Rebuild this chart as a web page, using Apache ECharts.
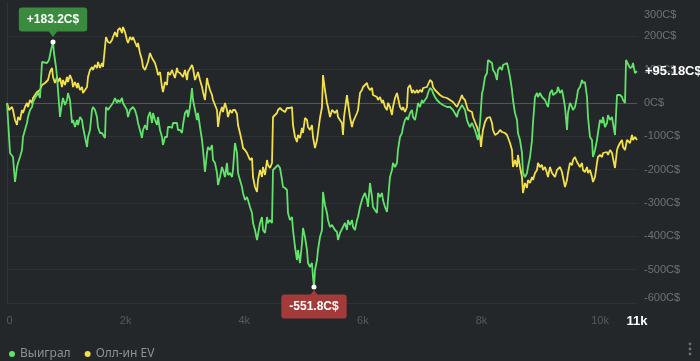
<!DOCTYPE html>
<html><head><meta charset="utf-8">
<script src="https://cdn.jsdelivr.net/npm/echarts@6/dist/echarts.min.js"></script>
<style>html,body{margin:0;padding:0;background:#232729;}#c{width:700px;height:361px;}</style>
</head><body><div id="c"></div>
<script>
var seriesNames = ['Выиграл', 'Олл-ин EV'];
var yTicks = [-600, 300, 100];
var xTickStep = 2000;
var totalHands = 10622;
// [hand, C$]
var wonPoints = [[0,0],[51,-150],[101,-162],[135,-237],[169,-192],[185,-180],[219,-162],[253,-141],[270,-102],[303,-81],[337,-60],[354,-42],[388,-21],[422,-12],[438,3],[472,15],[506,24],[523,33],[556,15],[590,123],[607,123],[674,120],[708,129],[742,159],[776,183.2],[792,150],[826,108],[843,78],[860,39],[894,-42],[927,0],[944,15],[978,-6],[1012,9],[1028,30],[1062,9],[1096,-60],[1113,-51],[1146,-72],[1180,-51],[1197,-66],[1231,-42],[1265,-51],[1281,-72],[1315,-102],[1349,-132],[1366,-102],[1399,-81],[1433,-21],[1450,-12],[1484,-21],[1517,-42],[1534,-72],[1568,-90],[1602,-90],[1619,-96],[1652,-105],[1669,-12],[1703,-21],[1737,-12],[1787,0],[1821,15],[1855,0],[1871,9],[1905,3],[1939,15],[1956,0],[2023,-21],[2040,-42],[2074,-21],[2124,-12],[2158,-21],[2192,-42],[2209,-60],[2242,-81],[2276,-105],[2293,-81],[2327,-66],[2360,-81],[2377,-42],[2411,-27],[2445,-60],[2462,-30],[2495,-51],[2529,-66],[2546,-42],[2580,-81],[2613,-102],[2630,-126],[2664,-102],[2698,-102],[2714,-72],[2748,-72],[2782,-75],[2799,-60],[2832,-60],[2866,-60],[2883,-81],[2917,-81],[2950,-90],[2967,-66],[3001,-30],[3035,-21],[3052,-42],[3085,-12],[3119,45],[3136,9],[3170,-21],[3203,-51],[3220,-30],[3254,-72],[3288,-111],[3305,-141],[3338,-207],[3372,-150],[3389,-132],[3423,-141],[3456,-126],[3473,-171],[3507,-180],[3541,-210],[3558,-246],[3591,-222],[3625,-192],[3642,-201],[3675,-222],[3709,-180],[3726,-216],[3760,-210],[3794,-222],[3810,-201],[3844,-120],[3861,-117],[3878,-150],[3895,-210],[3928,-231],[3962,-252],[3979,-270],[4013,-291],[4046,-282],[4063,-291],[4097,-312],[4131,-330],[4148,-360],[4181,-381],[4215,-411],[4232,-417],[4266,-360],[4299,-342],[4316,-381],[4350,-390],[4384,-342],[4400,-360],[4434,-351],[4468,-360],[4485,-201],[4518,-195],[4569,-186],[4603,-195],[4637,-231],[4653,-252],[4687,-255],[4721,-261],[4738,-330],[4771,-351],[4805,-342],[4822,-381],[4856,-432],[4889,-471],[4906,-441],[4940,-480],[4974,-420],[4991,-375],[5024,-402],[5058,-441],[5075,-480],[5109,-492],[5142,-480],[5159,-522],[5176,-551.8],[5193,-501],[5227,-471],[5243,-441],[5277,-402],[5311,-381],[5328,-267],[5361,-306],[5395,-330],[5412,-351],[5446,-372],[5480,-366],[5496,-372],[5530,-381],[5564,-387],[5581,-411],[5614,-390],[5665,-372],[5699,-360],[5732,-381],[5749,-351],[5783,-366],[5817,-351],[5834,-372],[5867,-381],[5901,-351],[5918,-342],[5952,-312],[5985,-291],[6002,-282],[6036,-270],[6070,-291],[6086,-312],[6120,-240],[6154,-282],[6171,-312],[6204,-321],[6238,-330],[6255,-270],[6289,-282],[6323,-270],[6339,-291],[6373,-312],[6407,-327],[6424,-291],[6457,-222],[6491,-201],[6508,-180],[6542,-192],[6575,-180],[6592,-141],[6626,-102],[6660,-90],[6677,-72],[6710,-51],[6744,-42],[6761,-51],[6795,-30],[6828,-21],[6845,-42],[6879,-51],[6913,-21],[6929,0],[6963,-12],[6997,9],[7014,0],[7047,3],[7081,18],[7098,30],[7132,45],[7166,39],[7182,30],[7216,18],[7250,9],[7267,3],[7300,0],[7351,-6],[7418,-12],[7469,-12],[7520,-21],[7587,-42],[7604,-27],[7671,-6],[7688,0],[7722,-21],[7756,-51],[7773,-60],[7806,-72],[7840,-60],[7890,-81],[7941,-111],[7975,-60],[8009,30],[8025,39],[8059,78],[8093,90],[8110,129],[8143,123],[8177,120],[8194,99],[8228,90],[8261,69],[8278,99],[8312,108],[8346,99],[8363,114],[8396,108],[8430,120],[8447,108],[8481,78],[8514,39],[8531,9],[8565,-30],[8599,-51],[8615,-90],[8649,-111],[8683,-150],[8700,-210],[8733,-222],[8767,-210],[8784,-192],[8818,-162],[8852,-111],[8868,-60],[8902,18],[8936,30],[8953,18],[8986,30],[9020,18],[9037,15],[9071,9],[9104,3],[9121,-12],[9155,30],[9189,39],[9206,24],[9239,30],[9273,33],[9290,48],[9324,30],[9357,39],[9374,24],[9408,-12],[9442,-81],[9458,-30],[9492,0],[9526,-12],[9543,-21],[9576,-12],[9610,18],[9627,39],[9661,48],[9695,69],[9711,60],[9745,63],[9779,18],[9796,-42],[9829,-102],[9863,-111],[9880,-162],[9914,-141],[9947,-111],[9964,-90],[9998,-51],[10032,-60],[10049,-42],[10082,-72],[10116,-60],[10133,-36],[10167,-51],[10201,-42],[10217,-60],[10251,-96],[10285,24],[10302,24],[10335,24],[10369,18],[10386,9],[10420,0],[10437,129],[10470,123],[10504,105],[10538,108],[10554,120],[10588,90],[10622,95.18]];
var evPoints = [[0,0],[34,-21],[84,-12],[101,-21],[135,-51],[169,-66],[185,-42],[219,-51],[253,-21],[270,-30],[303,-12],[337,0],[354,-12],[388,9],[422,0],[438,15],[472,24],[506,33],[523,30],[556,39],[590,54],[607,48],[641,60],[674,63],[691,69],[725,93],[759,105],[776,78],[809,60],[843,78],[860,63],[894,75],[927,48],[944,69],[978,54],[1012,78],[1028,63],[1062,84],[1096,69],[1113,48],[1146,63],[1180,45],[1197,60],[1231,39],[1265,48],[1281,30],[1315,39],[1349,48],[1366,78],[1399,99],[1433,108],[1450,99],[1484,114],[1517,105],[1534,123],[1568,105],[1602,120],[1619,108],[1652,105],[1669,198],[1703,183],[1737,180],[1770,189],[1787,198],[1821,213],[1855,198],[1871,219],[1905,225],[1939,210],[1956,228],[1989,213],[2023,189],[2040,180],[2074,198],[2108,189],[2124,198],[2158,183],[2192,168],[2209,180],[2242,150],[2276,129],[2293,108],[2327,99],[2360,93],[2377,123],[2411,150],[2445,135],[2495,120],[2529,99],[2546,84],[2580,93],[2613,48],[2630,33],[2664,63],[2698,54],[2714,93],[2748,84],[2782,99],[2799,90],[2832,75],[2866,105],[2883,93],[2917,90],[2950,84],[2967,78],[3001,99],[3035,69],[3052,93],[3085,90],[3119,114],[3136,105],[3170,69],[3203,84],[3220,93],[3254,69],[3288,48],[3305,33],[3338,9],[3372,75],[3389,60],[3423,39],[3456,24],[3473,9],[3507,-6],[3541,-21],[3558,-72],[3591,-30],[3625,-12],[3642,-27],[3675,0],[3709,-21],[3726,-42],[3760,-21],[3794,-30],[3810,-21],[3844,-21],[3878,-33],[3895,-66],[3928,-90],[3962,-117],[3979,-135],[4013,-141],[4046,-150],[4063,-147],[4097,-171],[4131,-165],[4148,-222],[4181,-252],[4215,-267],[4232,-231],[4266,-201],[4299,-222],[4316,-192],[4350,-216],[4384,-171],[4400,-186],[4434,-195],[4468,-180],[4485,-42],[4518,-36],[4552,-30],[4569,-21],[4603,-15],[4637,-21],[4653,-15],[4687,-27],[4721,-15],[4738,-21],[4771,-15],[4805,-12],[4822,-66],[4856,-102],[4889,-117],[4906,-96],[4940,-105],[4974,-75],[4991,-90],[5024,-45],[5058,-51],[5075,-72],[5109,-81],[5142,-66],[5159,-102],[5193,-135],[5227,-111],[5243,-90],[5277,-45],[5311,-12],[5328,84],[5361,39],[5395,0],[5412,-12],[5446,-42],[5480,-21],[5496,-27],[5530,-30],[5564,-21],[5581,-42],[5614,-42],[5648,-60],[5665,-96],[5682,-42],[5732,24],[5749,0],[5783,-42],[5817,-72],[5834,-57],[5867,-51],[5901,-30],[5918,-21],[5952,30],[5985,39],[6002,48],[6036,54],[6070,60],[6086,48],[6120,39],[6154,45],[6171,24],[6204,30],[6238,18],[6255,9],[6289,18],[6323,0],[6339,9],[6373,-12],[6407,-21],[6424,0],[6457,-12],[6491,-36],[6508,-12],[6542,15],[6575,30],[6592,24],[6626,-12],[6660,-21],[6677,-12],[6710,-27],[6744,-12],[6761,45],[6795,54],[6828,30],[6845,39],[6879,30],[6913,39],[6929,30],[6963,39],[6997,33],[7014,45],[7047,39],[7081,48],[7098,45],[7132,69],[7166,63],[7182,48],[7216,39],[7250,33],[7267,30],[7300,24],[7351,18],[7418,15],[7469,9],[7520,3],[7587,-12],[7604,-6],[7638,9],[7671,24],[7688,15],[7722,9],[7756,-12],[7773,-21],[7806,-15],[7840,-27],[7857,-42],[7890,-57],[7924,-72],[7941,-75],[7975,-102],[7992,-132],[8009,-102],[8025,-81],[8059,-57],[8093,-45],[8110,-51],[8143,-42],[8177,-60],[8194,-81],[8228,-96],[8261,-102],[8278,-90],[8312,-81],[8346,-87],[8363,-81],[8396,-90],[8430,-96],[8447,-102],[8481,-120],[8514,-141],[8531,-192],[8565,-171],[8599,-192],[8615,-156],[8649,-192],[8683,-222],[8700,-270],[8733,-240],[8767,-255],[8784,-231],[8818,-240],[8852,-222],[8868,-231],[8902,-210],[8936,-201],[8953,-180],[8986,-192],[9020,-186],[9037,-201],[9071,-192],[9104,-210],[9121,-222],[9155,-192],[9189,-210],[9206,-207],[9239,-222],[9273,-201],[9290,-195],[9324,-192],[9357,-207],[9374,-222],[9408,-252],[9442,-231],[9458,-210],[9492,-180],[9526,-186],[9543,-171],[9576,-162],[9610,-177],[9627,-171],[9661,-192],[9695,-180],[9711,-201],[9745,-207],[9779,-192],[9796,-210],[9829,-201],[9863,-222],[9880,-237],[9914,-222],[9947,-180],[9964,-162],[9998,-156],[10032,-162],[10049,-150],[10082,-156],[10116,-147],[10133,-156],[10167,-141],[10201,-150],[10217,-165],[10251,-195],[10285,-141],[10302,-132],[10335,-120],[10369,-111],[10386,-132],[10420,-141],[10453,-111],[10470,-105],[10504,-120],[10538,-96],[10554,-111],[10588,-102],[10622,-111]];

var GREEN = '#62e26b', YELLOW = '#f1e04b';
var FONT = 'Liberation Sans, Arial, sans-serif';
function money(v){ return (v > 0 ? '+' : '') + v + 'C$'; }

var chart = echarts.init(document.getElementById('c'), null, {renderer:'canvas'});
var grid = '#2d3234';
chart.setOption({
  backgroundColor: '#232729',
  animation: false,
  textStyle: {fontFamily: FONT},
  grid: {left: 7, right: 63, top: 3, bottom: 58},
  legend: {
    left: 4, top: 343, icon: 'circle', itemWidth: 6, itemHeight: 6, itemGap: 14,
    textStyle: {color: '#8b9092', fontSize: 12, fontFamily: 'Noto Sans, sans-serif'},
    data: seriesNames
  },
  xAxis: {
    type: 'value', min: 0, max: totalHands, interval: xTickStep,
    axisLine: {show: false}, axisTick: {show: false}, splitLine: {show: false},
    axisLabel: {
      margin: 12, color: '#565b5d', fontSize: 11,
      formatter: function(v){
        if (v === totalHands) return '{end|' + Math.round(v/1000) + 'k}';
        return v === 0 ? '{zero|0}' : (v/1000) + 'k';
      },
      rich: {
        end: {color: '#ffffff', fontWeight: 'bold', fontSize: 13, fontFamily: FONT},
        zero: {color: '#565b5d', fontSize: 11, fontFamily: FONT, padding: [0, 0, 0, 5]}
      }
    }
  },
  yAxis: [{
    type: 'value', position: 'right', min: yTicks[0], max: yTicks[1], interval: yTicks[2],
    axisLine: {show: true, lineStyle: {color: '#363b3d'}},
    axisTick: {show: false},
    splitLine: {show: true, lineStyle: {width: 1, color: [grid, grid, grid, grid, grid, grid, '#505557', grid, grid, 'rgba(0,0,0,0)']}},
    axisLabel: {
      margin: 7, color: '#6d7274', fontSize: 11,
      formatter: function(v){
        if (v === yTicks[1]) return '{top|' + v + 'C$}';
        if (v === yTicks[0]) return '{bot|' + v + 'C$}';
        return v + 'C$';
      },
      rich: {
        top: {padding: [24, 0, 0, 0], color: '#6d7274', fontSize: 11, fontFamily: FONT},
        bot: {padding: [0, 0, 10, 0], color: '#6d7274', fontSize: 11, fontFamily: FONT}
      }
    }
  }, {
    type: 'value', position: 'left', min: yTicks[0], max: yTicks[1],
    axisLine: {show: true, lineStyle: {color: '#2f3436'}},
    axisTick: {show: false}, axisLabel: {show: false}, splitLine: {show: false}
  }],
  graphic: [
    {type: 'circle', shape: {cx: 690, cy: 344, r: 1.4}, style: {fill: '#6a6f71'}},
    {type: 'circle', shape: {cx: 690, cy: 349, r: 1.4}, style: {fill: '#6a6f71'}},
    {type: 'circle', shape: {cx: 690, cy: 354, r: 1.4}, style: {fill: '#6a6f71'}}
  ],
  series: [{
    name: seriesNames[0], type: 'line', data: wonPoints, showSymbol: false, symbol: 'none',
    lineStyle: {color: GREEN, width: 1.8}, itemStyle: {color: GREEN}, z: 3,
    endLabel: {
      show: true, distance: 8, color: '#ffffff', fontWeight: 'bold', fontSize: 13, fontFamily: FONT,
      formatter: function(p){ return money(p.value[1]); }
    },
    markPoint: {
      silent: true, animation: false,
      data: [
        {type: 'max', symbol: 'path://M0,0 L10,0 L5,7 Z', symbolSize: [9, 6], symbolOffset: [0, -8], itemStyle: {color: '#3b8b3f'}, label: {show: false}},
        {type: 'max', symbol: 'circle', symbolSize: 5, itemStyle: {color: '#ffffff'},
          label: {show: true, position: 'top', distance: 8, backgroundColor: '#3b8b3f', borderRadius: 3, padding: [6, 8],
            color: '#ffffff', fontWeight: 'bold', fontSize: 12, fontFamily: FONT, formatter: function(p){ return money(p.value); }}},
        {type: 'min', symbol: 'path://M5,0 L10,7 L0,7 Z', symbolSize: [9, 6], symbolOffset: [0, 6], itemStyle: {color: '#a43b3b'}, label: {show: false}},
        {type: 'min', symbol: 'circle', symbolSize: 5, itemStyle: {color: '#ffffff'},
          label: {show: true, position: 'bottom', distance: 5, backgroundColor: '#a43b3b', borderRadius: 3, padding: [6, 8],
            color: '#ffffff', fontWeight: 'bold', fontSize: 12, fontFamily: FONT, formatter: function(p){ return money(p.value); }}}
      ]
    }
  }, {
    name: seriesNames[1], type: 'line', data: evPoints, showSymbol: false, symbol: 'none',
    lineStyle: {color: YELLOW, width: 1.8}, itemStyle: {color: YELLOW}, z: 2
  }]
});
</script></body></html>
